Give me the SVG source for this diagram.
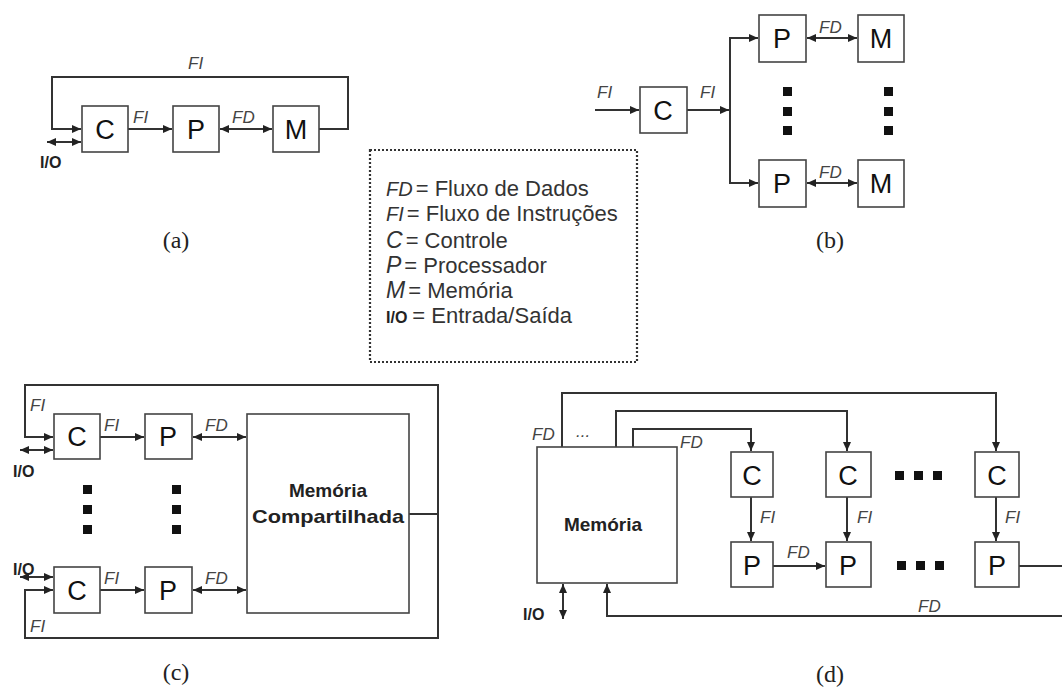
<svg xmlns="http://www.w3.org/2000/svg" width="1062" height="691" viewBox="0 0 1062 691">
<style>
.bx{fill:#fff;stroke:#444;stroke-width:1.6}
.ln{fill:none;stroke:#333;stroke-width:2}
.ar{marker-end:url(#ah)}
.da{marker-start:url(#ah);marker-end:url(#ah)}
.nl{font-family:"Liberation Sans",Arial,sans-serif;font-size:27px;fill:#111;text-anchor:middle}
.el{font-family:"Liberation Sans",Arial,sans-serif;font-size:17px;font-style:italic;fill:#444}
.io{font-family:"Liberation Sans",Arial,sans-serif;font-size:16px;font-weight:bold;fill:#222}
.lg{font-family:"Liberation Sans",Arial,sans-serif;font-size:22px;fill:#333}
.lgi{font-family:"Liberation Sans",Arial,sans-serif;font-style:italic;fill:#333}
.mb{font-family:"Liberation Sans",Arial,sans-serif;font-size:19px;font-weight:bold;fill:#222;text-anchor:middle}
.cap{font-family:"Liberation Serif","Times New Roman",serif;font-size:24px;fill:#222;text-anchor:middle}
.dot{fill:#111}
</style>
<defs>
<marker id="ah" markerUnits="userSpaceOnUse" markerWidth="10" markerHeight="8" refX="9" refY="4" orient="auto-start-reverse"><path d="M0,0 L9,4 L0,8 z" fill="#222"/></marker>
</defs>
<rect width="1062" height="691" fill="#fff"/>

<!-- connectors -->
<g id="connectors">
<!-- (a) -->
<path class="ln ar" d="M319,129 H348 V77 H52 V129 H81"/>
<path class="ln ar" d="M128,129 H172"/>
<path class="ln da" d="M220,129 H272"/>
<path class="ln da" d="M47,142 H81"/>
<!-- (b) -->
<path class="ln ar" d="M595,110 H639"/>
<path class="ln ar" d="M687,110 H729"/>
<path class="ln da" d="M758,38 H730 V183 H758"/>
<path class="ln da" d="M807,38 H857"/>
<path class="ln da" d="M807,183 H857"/>
<!-- (c) -->
<path class="ln da" d="M53,437 H25 V385 H438 V638 H25 V590 H53"/>
<path class="ln" d="M409,514 H438"/>
<path class="ln ar" d="M100,437 H144"/>
<path class="ln da" d="M193,437 H246"/>
<path class="ln da" d="M20,450 H53"/>
<path class="ln ar" d="M100,590 H144"/>
<path class="ln da" d="M193,590 H246"/>
<path class="ln da" d="M20,577 H53"/>
<!-- (d) -->
<path class="ln ar" d="M562,447 V393 H996 V451"/>
<path class="ln ar" d="M616,447 V411 H847 V451"/>
<path class="ln ar" d="M633,447 V429 H751 V451"/>
<path class="ln ar" d="M751,497 V541"/>
<path class="ln ar" d="M847,497 V541"/>
<path class="ln ar" d="M996,497 V541"/>
<path class="ln ar" d="M773,566 H825"/>
<path class="ln ar" d="M1019,566 H1066 V616 H607 V584"/>
<path class="ln da" d="M563,584 V619"/>
</g>

<!-- (a) nodes -->
<g id="a-C"><rect class="bx" x="82" y="106" width="46" height="46"/><text class="nl" x="105" y="139">C</text></g>
<g id="a-P"><rect class="bx" x="173" y="106" width="46" height="46"/><text class="nl" x="196" y="139">P</text></g>
<g id="a-M"><rect class="bx" x="273" y="106" width="46" height="46"/><text class="nl" x="296" y="139">M</text></g>
<g id="a-labels">
<text class="el" x="188" y="69">FI</text>
<text class="el" x="133" y="123">FI</text>
<text class="el" x="232" y="123">FD</text>
<text class="io" x="40" y="168">I/O</text>
<text class="cap" x="176" y="248">(a)</text>
</g>

<!-- (b) nodes -->
<g id="b-C"><rect class="bx" x="640" y="87" width="47" height="46"/><text class="nl" x="663" y="120">C</text></g>
<g id="b-P1"><rect class="bx" x="759" y="15" width="47" height="47"/><text class="nl" x="782" y="48">P</text></g>
<g id="b-M1"><rect class="bx" x="858" y="15" width="46" height="47"/><text class="nl" x="881" y="48">M</text></g>
<g id="b-P2"><rect class="bx" x="759" y="160" width="47" height="47"/><text class="nl" x="782" y="193">P</text></g>
<g id="b-M2"><rect class="bx" x="858" y="160" width="46" height="47"/><text class="nl" x="881" y="193">M</text></g>
<g id="b-labels">
<text class="el" x="597" y="98">FI</text>
<text class="el" x="700" y="98">FI</text>
<text class="el" x="819" y="33">FD</text>
<text class="el" x="819" y="178">FD</text>
<rect class="dot" x="783" y="87" width="9" height="9"/>
<rect class="dot" x="783" y="107" width="9" height="9"/>
<rect class="dot" x="783" y="126" width="9" height="9"/>
<rect class="dot" x="884" y="87" width="9" height="9"/>
<rect class="dot" x="884" y="107" width="9" height="9"/>
<rect class="dot" x="884" y="126" width="9" height="9"/>
<text class="cap" x="830" y="248">(b)</text>
</g>

<!-- legend -->
<g id="legend">
<rect x="370" y="150" width="267" height="212" fill="none" stroke="#333" stroke-width="2.2" stroke-dasharray="2,2"/>
<text x="386" y="196"><tspan class="lgi" font-size="20px">FD</tspan><tspan class="lg" dx="3">= Fluxo de Dados</tspan></text>
<text x="386" y="221"><tspan class="lgi" font-size="20px">FI</tspan><tspan class="lg" dx="3">= Fluxo de Instruções</tspan></text>
<text x="386" y="248"><tspan class="lgi" font-size="23px">C</tspan><tspan class="lg" dx="3">= Controle</tspan></text>
<text x="386" y="273"><tspan class="lgi" font-size="23px">P</tspan><tspan class="lg" dx="3">= Processador</tspan></text>
<text x="386" y="298"><tspan class="lgi" font-size="23px">M</tspan><tspan class="lg" dx="3">= Memória</tspan></text>
<text x="386" y="323"><tspan class="io" font-size="18px">I/O</tspan><tspan class="lg" dx="5">= Entrada/Saída</tspan></text>
</g>

<!-- (c) nodes -->
<g id="c-C1"><rect class="bx" x="54" y="414" width="46" height="45"/><text class="nl" x="77" y="446">C</text></g>
<g id="c-P1"><rect class="bx" x="145" y="414" width="47" height="45"/><text class="nl" x="168" y="446">P</text></g>
<g id="c-C2"><rect class="bx" x="54" y="567" width="46" height="46"/><text class="nl" x="77" y="600">C</text></g>
<g id="c-P2"><rect class="bx" x="145" y="567" width="47" height="46"/><text class="nl" x="168" y="600">P</text></g>
<g id="c-Mem"><rect class="bx" x="247" y="414" width="162" height="199"/>
<text class="mb" x="328" y="497">Memória</text>
<text class="mb" x="328" y="523" textLength="152" lengthAdjust="spacingAndGlyphs">Compartilhada</text></g>
<g id="c-labels">
<text class="el" x="30" y="411">FI</text>
<text class="el" x="104" y="431">FI</text>
<text class="el" x="205" y="431">FD</text>
<text class="io" x="13" y="477">I/O</text>
<text class="io" x="13" y="575">I/O</text>
<text class="el" x="104" y="584">FI</text>
<text class="el" x="205" y="584">FD</text>
<text class="el" x="30" y="632">FI</text>
<rect class="dot" x="83" y="485" width="9" height="9"/>
<rect class="dot" x="83" y="505" width="9" height="9"/>
<rect class="dot" x="83" y="525" width="9" height="9"/>
<rect class="dot" x="172" y="485" width="9" height="9"/>
<rect class="dot" x="172" y="505" width="9" height="9"/>
<rect class="dot" x="172" y="525" width="9" height="9"/>
<text class="cap" x="176" y="680">(c)</text>
</g>

<!-- (d) nodes -->
<g id="d-Mem"><rect class="bx" x="537" y="447" width="140" height="136"/><text class="mb" x="603" y="531">Memória</text></g>
<g id="d-C1"><rect class="bx" x="731" y="452" width="42" height="45"/><text class="nl" x="752" y="485">C</text></g>
<g id="d-C2"><rect class="bx" x="826" y="452" width="45" height="45"/><text class="nl" x="848" y="485">C</text></g>
<g id="d-C3"><rect class="bx" x="975" y="452" width="44" height="45"/><text class="nl" x="997" y="485">C</text></g>
<g id="d-P1"><rect class="bx" x="731" y="542" width="42" height="45"/><text class="nl" x="752" y="575">P</text></g>
<g id="d-P2"><rect class="bx" x="826" y="542" width="45" height="45"/><text class="nl" x="848" y="575">P</text></g>
<g id="d-P3"><rect class="bx" x="975" y="542" width="44" height="45"/><text class="nl" x="997" y="575">P</text></g>
<g id="d-labels">
<text class="el" x="532" y="440">FD</text>
<text class="el" x="576" y="437">...</text>
<text class="el" x="680" y="448">FD</text>
<text class="el" x="760" y="523">FI</text>
<text class="el" x="857" y="523">FI</text>
<text class="el" x="1005" y="523">FI</text>
<text class="el" x="787" y="558">FD</text>
<text class="el" x="918" y="612">FD</text>
<text class="io" x="523" y="620">I/O</text>
<rect class="dot" x="895" y="471" width="9" height="9"/>
<rect class="dot" x="914" y="471" width="9" height="9"/>
<rect class="dot" x="933" y="471" width="9" height="9"/>
<rect class="dot" x="897" y="561" width="9" height="9"/>
<rect class="dot" x="916" y="561" width="9" height="9"/>
<rect class="dot" x="935" y="561" width="9" height="9"/>
<text class="cap" x="830" y="682">(d)</text>
</g>
</svg>
